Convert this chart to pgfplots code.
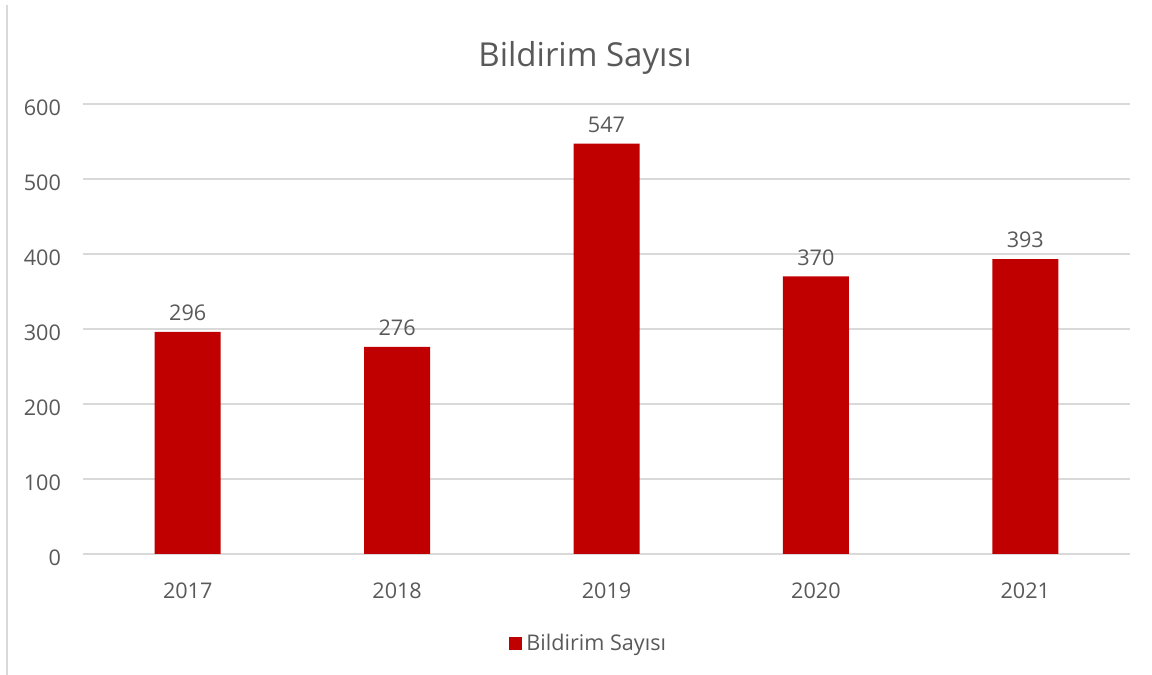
\documentclass[border=0pt]{standalone}
\usepackage{fontspec}
\setmainfont{Open Sans}
\usepackage{pgfplots}
\pgfplotsset{compat=1.18}
\definecolor{barred}{HTML}{C00000}
\definecolor{txtgray}{HTML}{595959}
\definecolor{gridgray}{HTML}{D9D9D9}
\begin{document}
\begin{tikzpicture}[x=0.5pt,y=0.5pt]
\useasboundingbox (0,0) rectangle (1152,675);
\draw[gridgray, line width=1pt] (7,0) -- (7,670);
\node[txtgray, font=\fontsize{16.5}{20}\selectfont] at (585,617) {Bildirim Sayısı};
\begin{axis}[
    at={(41.5pt,60.5pt)}, anchor=south west,
    scale only axis, width=523.5pt, height=225pt,
    xmin=-0.5, xmax=4.5, ymin=0, ymax=600,
    axis line style={draw=none},
    ymajorgrids, grid style={gridgray, line width=0.8pt},
    xtick={0,1,2,3,4},
    xticklabels={2017,2018,2019,2020,2021},
    ytick={0,100,...,600},
    tick style={draw=none},
    ticklabel style={txtgray, font=\fontsize{10.8}{13}\selectfont},
    /pgf/number format/assume math mode=true,
    xticklabel style={yshift=-6.5pt},
    yticklabel style={xshift=-7.5pt, yshift=-1.8pt},
    ybar, bar width=33pt,
    nodes near coords,
    every node near coord/.append style={txtgray, font=\fontsize{10.8}{13}\selectfont, yshift=2pt},
    legend style={at={(0.484,-0.2)}, anchor=center, draw=none, fill=none,
        font=\fontsize{10.8}{13}\selectfont, text=txtgray},
    legend image code/.code={\fill[barred] (0cm,-0.1cm) rectangle (0.23cm,0.13cm);},
]
\addplot[fill=barred, draw=none] coordinates {(0,296) (1,276) (2,547) (3,370) (4,393)};
\addlegendentry{Bildirim Sayısı}
\end{axis}
\end{tikzpicture}
\end{document}
